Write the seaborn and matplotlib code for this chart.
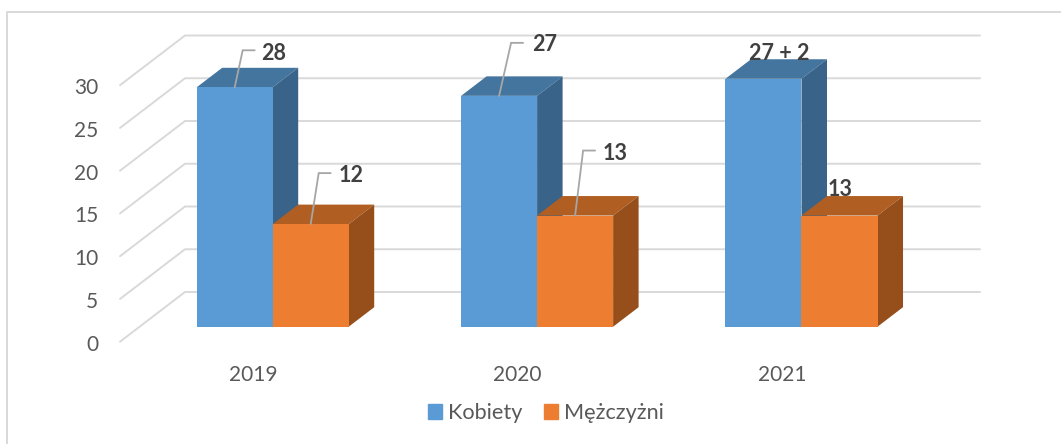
import pandas as pd
import seaborn as sns
import matplotlib.pyplot as plt
from matplotlib.lines import Line2D
from matplotlib.transforms import ScaledTranslation

years = ['2019', '2020', '2021']
kobiety = [28, 27, 29]
mezczyzni = [12, 13, 13]
kobiety_labels = ['28', '27', '27 + 2']
mezczyzni_labels = ['12', '13', '13']
yticks = [0, 5, 10, 15, 20, 25, 30]

# 3d look, everything in pixels of the 1061x444 picture
W, H = 1061, 444
DPI = 100
LEFT, RIGHT, TOP, BOTTOM = 120, 980, 36, 341.7
Y0 = 326.7      # pixel of value 0 on the front of the bars
PX_Y = 8.55     # pixels per unit
PX_X = 264.4    # pixels per category
DEPTH_X, DEPTH_Y = 25.5, 19.5
WALL_X, WALL_Y = 65, 49.7

df = pd.DataFrame({
    'rok': years * 2,
    'plec': ['Kobiety'] * 3 + ['Mężczyżni'] * 3,
    'ile': kobiety + mezczyzni,
})

sns.set_theme(style='white')
plt.rcParams['font.family'] = ['Lato', 'DejaVu Sans']

fig = plt.figure(figsize=(W / DPI, H / DPI), dpi=DPI)
ax = fig.add_axes([LEFT / W, 1 - BOTTOM / H, (RIGHT - LEFT) / W, (BOTTOM - TOP) / H])

colors = {'Kobiety': '#5B9BD5', 'Mężczyżni': '#ED7D31'}
sns.barplot(data=df, x='rok', y='ile', hue='plec', palette=colors, width=0.575,
            gap=0, saturation=1, legend=False, linewidth=0, ax=ax)

ax.set_xlim((LEFT - 272.7) / PX_X, (RIGHT - 272.7) / PX_X)
ax.set_ylim((Y0 - BOTTOM) / PX_Y, (Y0 - TOP) / PX_Y)
ax.set_xlabel('')
ax.set_ylabel('')
sns.despine(ax=ax, left=True, bottom=True, top=True, right=True)

# floor diagonals and back wall lines
xend = ax.get_xlim()
dx_wall = WALL_X / PX_X
dy_wall = WALL_Y / PX_Y
front_drop = (BOTTOM - Y0) / PX_Y
for v in yticks:
    ax.plot([xend[0], xend[0] + dx_wall, xend[1]],
            [v - front_drop, v - front_drop + dy_wall, v - front_drop + dy_wall],
            color='#D9D9D9', lw=1.4, zorder=0, clip_on=False, solid_joinstyle='miter')

# sides and tops of the bars, taken from the bars seaborn drew
shades = [('#44759F', '#396388'), ('#B15E22', '#964F1B')]
dx = DEPTH_X / PX_X
dy = DEPTH_Y / PX_Y
for i, cont in enumerate(ax.containers):
    top_c, side_c = shades[i]
    for bar in cont:
        x0 = bar.get_x()
        x1 = x0 + bar.get_width()
        h = bar.get_height()
        bar.set_zorder(3 + 2 * i)
        ax.fill([x0, x1, x1 + dx, x0 + dx], [h, h, h + dy, h + dy], color=top_c, lw=0,
                zorder=2 + 2 * i)
        ax.fill([x1, x1 + dx, x1 + dx, x1], [0, dy, h + dy, h], color=side_c, lw=0,
                zorder=2 + 2 * i)

# data labels: (x shift of leader, rise of leader, label x shift, label rise) in pixels
label_style = {
    '28': (8, 37, 39, 33.5), '12': (8, 51, 40, 48.5), '27': (12, 53, 46, 51.5),
    '13': (8, 65, 40, 62.5), '27 + 2': (None, None, 16, 25), '13b': (None, None, 0.5, 26),
}
all_labels = [kobiety_labels, mezczyzni_labels]
for i, cont in enumerate(ax.containers):
    for j, bar in enumerate(cont):
        txt = all_labels[i][j]
        key = '13b' if (i == 1 and j == 2) else txt
        lx, ly, tx, ty = label_style[key]
        xc = bar.get_x() + bar.get_width() / 2
        h = bar.get_height()
        if lx is not None:
            ax.plot([xc, xc + lx / PX_X, xc + (lx + 12) / PX_X],
                    [h, h + ly / PX_Y, h + ly / PX_Y],
                    color='#A6A6A6', lw=1.3, zorder=8, solid_joinstyle='miter')
        ax.text(xc + tx / PX_X, h + ty / PX_Y, txt, ha='center', va='center', fontsize=15.5,
                fontweight='bold', color='#404040', zorder=9)

# tick labels sit lower and to the left because of the perspective
ax.set_yticks(yticks)
ax.tick_params(axis='y', length=0, pad=15.7, labelsize=15, labelcolor='#595959')
ax.tick_params(axis='x', length=0, pad=16.5, labelsize=15, labelcolor='#595959')
for lab in ax.get_yticklabels():
    lab.set_transform(lab.get_transform() + ScaledTranslation(0, -16 / DPI, fig.dpi_scale_trans))
for lab in ax.get_xticklabels():
    lab.set_transform(lab.get_transform() + ScaledTranslation(-19.5 / DPI, 0, fig.dpi_scale_trans))

handles = [plt.Rectangle((0, 0), 1, 1, color=colors[k]) for k in colors]
fig.legend(handles, list(colors), loc='center', bbox_to_anchor=(546 / W, 1 - 413 / H), ncol=2,
           frameon=False, fontsize=15.6, labelcolor='#595959', handlelength=0.64, handleheight=0.64,
           handletextpad=0.3, columnspacing=1.0, borderpad=0)

# outer frame, only top and left are inside the picture
fig.add_artist(Line2D([7 / W, 7 / W, 1], [0, 1 - 12 / H, 1 - 12 / H], color='#D9D9D9', lw=1.4))

fig.savefig('out.png', dpi=DPI)
